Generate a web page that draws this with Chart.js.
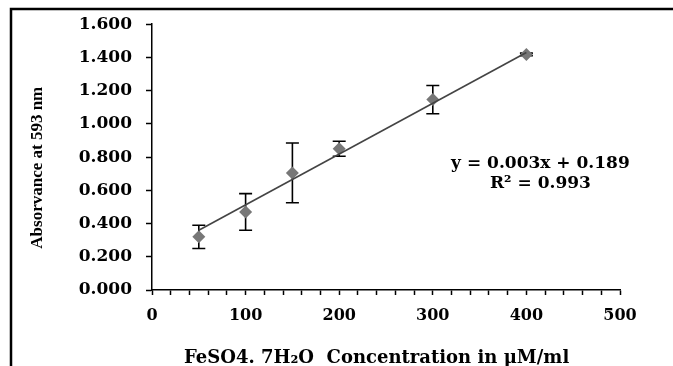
<!DOCTYPE html>
<html>
<head>
<meta charset="utf-8">
<script src="https://cdn.jsdelivr.net/npm/chart.js@4.4.0/dist/chart.umd.min.js"></script>
<style>
  html, body { margin: 0; padding: 0; background: #fff; }
</style>
</head>
<body>
<canvas id="myChart" width="673" height="366"></canvas>
<script>
// Values
let concentration = [50, 100, 150, 200, 300, 400];
let absorbance = [0.32, 0.47, 0.705, 0.85, 1.146, 1.418];
let errorSize = [0.07, 0.11, 0.18, 0.045, 0.085, 0.008];

// Linear trendline end points (as drawn in the picture)
let trendX = [50, 400];
let trendY = [0.36, 1.43];

// Tick labels
let xTicks = [0, 100, 200, 300, 400, 500];
let yTicks = [0, 0.2, 0.4, 0.6, 0.8, 1.0, 1.2, 1.4, 1.6];

let equationLines = ['y = 0.003x + 0.189', 'R² = 0.993'];

// Black frame on the left and top edge
const framePlugin = {
    id: 'frame',
    beforeDraw(chart) {
        let ctx = chart.ctx;
        ctx.save();
        ctx.fillStyle = '#fff';
        ctx.fillRect(0, 0, chart.width, chart.height);
        ctx.strokeStyle = '#000';
        ctx.lineWidth = 2.5;
        ctx.beginPath();
        ctx.moveTo(11, chart.height);
        ctx.lineTo(11, 9);
        ctx.lineTo(chart.width, 9);
        ctx.stroke();
        ctx.restore();
    }
};

// Vertical error bars with caps
const errorBarPlugin = {
    id: 'errorBars',
    beforeDatasetsDraw(chart) {
        let ctx = chart.ctx;
        let xs = chart.scales.x;
        let ys = chart.scales.y;
        ctx.save();
        ctx.strokeStyle = '#000';
        ctx.lineWidth = 1.6;
        concentration.forEach((c, i) => {
            let px = xs.getPixelForValue(c);
            let top = ys.getPixelForValue(absorbance[i] + errorSize[i]);
            let bottom = ys.getPixelForValue(absorbance[i] - errorSize[i]);
            ctx.beginPath();
            ctx.moveTo(px, top);
            ctx.lineTo(px, bottom);
            ctx.moveTo(px - 6.5, top);
            ctx.lineTo(px + 6.5, top);
            ctx.moveTo(px - 6.5, bottom);
            ctx.lineTo(px + 6.5, bottom);
            ctx.stroke();
        });
        ctx.restore();
    }
};

// Trendline equation and R²
const equationPlugin = {
    id: 'equation',
    afterDraw(chart) {
        let ctx = chart.ctx;
        let px = chart.scales.x.getPixelForValue(415);
        let py = chart.scales.y.getPixelForValue(0.76);
        ctx.save();
        ctx.fillStyle = '#000';
        ctx.font = 'bold 17px "DejaVu Serif"';
        ctx.textAlign = 'center';
        ctx.textBaseline = 'middle';
        equationLines.forEach((t, i) => ctx.fillText(t, px, py + i * 20));
        ctx.restore();
    }
};

let canvas = document.getElementById('myChart').getContext('2d');

new Chart(canvas, {
    type: 'scatter',
    data: {
        datasets: [
            {
                label: 'Linear',
                type: 'line',
                data: trendX.map((x, i) => ({ x: x, y: trendY[i] })),
                borderColor: '#444',
                borderWidth: 1.6,
                pointRadius: 0,
                fill: false
            },
            {
                label: 'Absorbance',
                data: concentration.map((c, i) => ({ x: c, y: absorbance[i] })),
                pointStyle: 'rectRot',
                pointRadius: 6.5,
                backgroundColor: '#777',
                borderColor: '#777',
                borderWidth: 0
            }
        ]
    },
    options: {
        responsive: false,
        animation: false,
        layout: { padding: { left: 0, top: 20, right: 53, bottom: 0 } },
        plugins: {
            legend: { display: false },
            tooltip: { enabled: false }
        },
        scales: {
            x: {
                type: 'linear',
                min: 0,
                max: 500,
                ticks: {
                    stepSize: 20,
                    autoSkip: false,
                    maxRotation: 0,
                    padding: 11,
                    color: '#000',
                    font: { family: 'DejaVu Serif', weight: 'bold', size: 16 },
                    callback: v => xTicks.includes(v) ? String(v) : ''
                },
                grid: { drawOnChartArea: false, tickLength: 5, tickColor: '#000', tickWidth: 1.5 },
                border: { color: '#000', width: 1.5 },
                title: {
                    display: true,
                    text: 'FeSO4. 7H₂O  Concentration in µM/ml\u00a0\u00a0\u00a0',
                    color: '#000',
                    font: { family: 'DejaVu Serif', weight: 'bold', size: 18 },
                    padding: { top: 0, bottom: -3 }
                },
                afterFit: s => { s.height = 76; }
            },
            y: {
                min: 0,
                max: 1.6,
                afterBuildTicks: s => { s.ticks = yTicks.map(v => ({ value: v })); },
                ticks: {
                    padding: 14,
                    color: '#000',
                    font: { family: 'DejaVu Serif', weight: 'bold', size: 17 },
                    callback: v => v.toFixed(3)
                },
                grid: { drawOnChartArea: false, tickLength: 6, tickColor: '#000', tickWidth: 1.5 },
                border: { color: '#000', width: 1.5 },
                title: {
                    display: true,
                    text: 'Absorvance at 593 nm\u00a0\u00a0\u00a0\u00a0\u00a0',
                    color: '#000',
                    font: { family: 'Liberation Serif', weight: 'bold', size: 17 },
                    padding: { top: 27, bottom: 0 }
                },
                afterFit: s => { s.width = 152; }
            }
        }
    },
    plugins: [framePlugin, errorBarPlugin, equationPlugin]
});
</script>
</body>
</html>
